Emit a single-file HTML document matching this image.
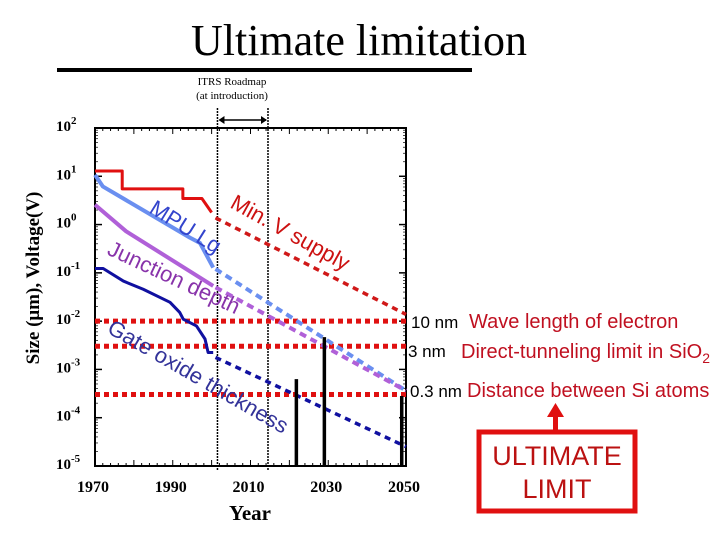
<!DOCTYPE html>
<html><head><meta charset="utf-8"><style>
html,body{margin:0;padding:0;background:#fff}
svg{display:block}
</style></head><body>
<svg id="chart" width="720" height="540" viewBox="0 0 720 540" xmlns="http://www.w3.org/2000/svg" font-family="Liberation Serif, serif">
<text x="359" y="55" text-anchor="middle" font-size="44">Ultimate limitation</text>
<rect x="57" y="68" width="415" height="4" fill="#000"/>
<text x="232" y="85" text-anchor="middle" font-size="11">ITRS Roadmap</text>
<text x="232" y="99" text-anchor="middle" font-size="11">(at introduction)</text>
<text transform="translate(39,278) rotate(-90)" text-anchor="middle" font-size="19" font-weight="bold">Size (μm), Voltage(V)</text>
<text x="250" y="520" text-anchor="middle" font-size="21" font-weight="bold">Year</text>
<g id="axes"></g>
<g id="marks"></g>
<g id="labels" font-family="Liberation Sans, sans-serif" font-size="22">
<text transform="translate(229,207) rotate(29)" fill="#cc1111">Min. V supply</text>
<text transform="translate(148,212) rotate(32)" fill="#3344cc">MPU Lg</text>
<text transform="translate(106,254) rotate(25)" fill="#8833aa">Junction depth</text>
<text transform="translate(106,332) rotate(30)" fill="#333399">Gate oxide thickness</text>
</g>
<g font-family="Liberation Sans, sans-serif">
<text x="411" y="328" font-size="17">10 nm</text>
<text x="469" y="328" font-size="20" fill="#c01020">Wave length of electron</text>
<text x="408" y="357" font-size="17">3 nm</text>
<text x="461" y="358" font-size="20" fill="#c01020">Direct-tunneling limit in SiO<tspan font-size="14" dy="5">2</tspan></text>
<text x="410" y="397" font-size="17">0.3 nm</text>
<text x="467" y="397" font-size="20" fill="#c01020">Distance between Si atoms</text>
<rect x="553" y="413" width="5" height="18" fill="#e01010"/>
<polygon points="555.5,403 547,417 564,417" fill="#e01010"/>
<rect x="479" y="432" width="156" height="79" fill="#fff" stroke="#e01010" stroke-width="5"/>
<text x="557" y="465" text-anchor="middle" font-size="27" fill="#bb1111">ULTIMATE</text>
<text x="557" y="498" text-anchor="middle" font-size="27" fill="#bb1111">LIMIT</text>
</g>
</svg>
<script>
const xTicks=[1970,1990,2010,2030,2050];
const yDecades=[2,1,0,-1,-2,-3,-4,-5];
const vsSolidX=[1970,1977,1977,1992.6,1992.6,1997.5,2000];
const vsSolidY=[1.11,1.11,0.74,0.74,0.54,0.54,0.25];
const vsDashX=[2001,2050];
const vsDashY=[0.14,-1.86];
const mpuSolidX=[1970,1972,1994.4,1997,2000.4];
const mpuSolidY=[1.03,0.79,-0.27,-0.38,-0.89];
const mpuDashX=[2001,2050];
const mpuDashY=[-0.92,-3.44];
const jdSolidX=[1970,1978,2000.4];
const jdSolidY=[0.41,-0.14,-1.27];
const jdDashX=[2001,2050];
const jdDashY=[-1.3,-3.44];
const goSolidX=[1970,1972.1,1977.3,1982.4,1989.3,1991.8,1992.7,1996.1,1998.3,1999.1,2000.4];
const goSolidY=[-0.91,-0.91,-1.17,-1.34,-1.61,-1.82,-1.96,-2.10,-2.37,-2.65,-2.65];
const goDashX=[2001,2050];
const goDashY=[-2.75,-4.6];
const limitLogs=[-2,-2.52,-3.52];
const barYears=[2021.8,2029,2048.9];
const barTops=[-3.2,-2.33,-3.55];
const roadmapYears=[2001.5,2014.5];

const NS='http://www.w3.org/2000/svg';
const X0=95,X1=406,Y0=128,Y1=466;
const sx=v=>X0+(v-1970)/(2050-1970)*(X1-X0);
const sy=v=>Y0+(2-v)/7*(Y1-Y0);
function mk(tag,attrs,parent){const e=document.createElementNS(NS,tag);for(const k in attrs)e.setAttribute(k,attrs[k]);parent.appendChild(e);return e;}
const axes=document.getElementById('axes'),marks=document.getElementById('marks');
const frame=mk('rect',{x:X0,y:Y0,width:X1-X0,height:Y1-Y0,fill:'none',stroke:'#000','stroke-width':2},axes);


for(let yr=1970;yr<=2050;yr+=2){
 const t=mk('line',{x1:sx(yr),x2:sx(yr),y1:Y0,y2:Y0+(yr%10==0?6:3),stroke:'#000','stroke-width':1},axes);
 
 
 const b=mk('line',{x1:sx(yr),x2:sx(yr),y1:Y1,y2:Y1-(yr%10==0?6:3),stroke:'#000','stroke-width':1},axes);
 
 
}
xTicks.forEach(v=>{
 const t=mk('text',{x:sx(v)-2,y:492,'text-anchor':'middle','font-size':16,'font-weight':'bold'},axes);
 t.textContent=v;
 
 
});
yDecades.forEach(d=>{
 const l=mk('line',{x1:X0,x2:X0+7,y1:sy(d),y2:sy(d),stroke:'#000','stroke-width':1.5},axes);
 
 
 const r=mk('line',{x1:X1,x2:X1-7,y1:sy(d),y2:sy(d),stroke:'#000','stroke-width':1.5},axes);
 
 
 for(let m=2;m<10;m++){const yy=sy(d-1+Math.log10(m));if(d>-5){
  const a=mk('line',{x1:X0,x2:X0+3,y1:yy,y2:yy,stroke:'#000','stroke-width':0.7},axes);
  
  
  const c=mk('line',{x1:X1,x2:X1-3,y1:yy,y2:yy,stroke:'#000','stroke-width':0.7},axes);
  
  }}
 const t=mk('text',{x:56,y:sy(d)+3,'font-size':15,'font-weight':'bold'},axes);
 
 
 t.textContent='10';
 const s=mk('tspan',{dy:-7,'font-size':11},t);s.textContent=String(d);
});
roadmapYears.forEach(v=>{
 const l=mk('line',{x1:sx(v),x2:sx(v),y1:108,y2:Y1+4,stroke:'#000','stroke-width':1.5,'stroke-dasharray':'2,1'},marks);
 
 
});
const arr=mk('line',{x1:sx(roadmapYears[0])+2,x2:sx(roadmapYears[1])-2,y1:120,y2:120,stroke:'#000','stroke-width':1.5},marks);


[[sx(roadmapYears[0])+1,1],[sx(roadmapYears[1])-1,-1]].forEach(([x,d])=>{
 const p=mk('polygon',{points:`${x},120 ${x+6*d},116 ${x+6*d},124`,fill:'#000'},marks);
 
 
});
limitLogs.forEach(v=>{
 const l=mk('line',{x1:X0,x2:X1+4,y1:sy(v),y2:sy(v),stroke:'#e01010','stroke-width':5,'stroke-dasharray':'5,4'},marks);
 
 
});
function path(xs,ys,color,w,dash,name){
 const d=xs.map((x,i)=>(i?'L':'M')+sx(x)+','+sy(ys[i])).join(' ');
 const a={d:d,fill:'none',stroke:color,'stroke-width':w,'stroke-linejoin':'round'};
 if(dash)a['stroke-dasharray']=dash;
 const p=mk('path',a,marks);
 
 
}
path(vsSolidX,vsSolidY,'#e01010',3,null,'vsupply-line');
path(vsDashX,vsDashY,'#d01818',3.5,'6,5','vsupply-projection');
path(mpuSolidX,mpuSolidY,'#6a8ff0',4,null,'mpu-lg-line');
path(mpuDashX,mpuDashY,'#6a8ff0',4,'7,5','mpu-lg-projection');
path(jdSolidX,jdSolidY,'#b060d8',4,null,'junction-depth-line');
path(jdDashX,jdDashY,'#b060d8',4,'7,5','junction-depth-projection');
path(goSolidX,goSolidY,'#1010a0',3,null,'gate-oxide-line');
path(goDashX,goDashY,'#1010a0',3.5,'6,5','gate-oxide-projection');
barYears.forEach((v,i)=>{
 const l=mk('line',{x1:sx(v),x2:sx(v),y1:sy(barTops[i]),y2:Y1,stroke:'#000','stroke-width':3.5},marks);
 
 
});
</script>
</body></html>
